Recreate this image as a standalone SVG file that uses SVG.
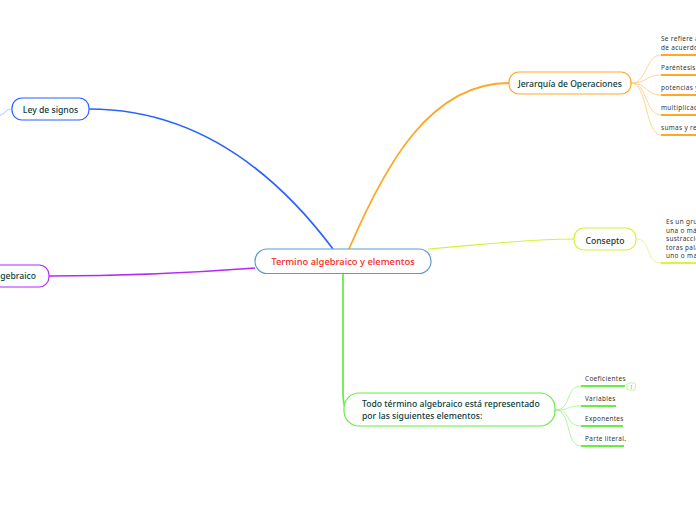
<svg xmlns="http://www.w3.org/2000/svg" width="696" height="520" viewBox="0 0 696 520">
<style>
text{font-family:"Noto Sans","DejaVu Sans",sans-serif}
.n{fill:#fff;stroke-width:1.2}
.t{font-size:8.6px;font-weight:500;fill:#0b3d3a}
.l{font-size:6.4px;fill:#333;letter-spacing:.35px}
.c{fill:none}
.u{fill:none;stroke-width:2}
</style>
<g id="connectors">
<path class="c" stroke="#2962ff" stroke-width="1.6" d="M89 109C190 109 270 165 333 249"/>
<path class="c" stroke="#ffa726" stroke-width="1.8" d="M349 249C385 165 430 83 509 83"/>
<path class="c" stroke="#d4f23c" stroke-width="1.2" d="M428 249C480 245 525 239 574 239"/>
<path class="c" stroke="#b429f9" stroke-width="1.4" d="M49 276C120 276 190 273 255 268"/>
<path class="c" stroke="#66ee44" stroke-width="1.8" d="M343 273V392Q343 410 349 410"/>
<path class="c" stroke="#9db8ff" stroke-width=".8" d="M12 109C6 109 4 115 0 115"/>
<g fill="none" stroke="#ffd08a" stroke-width=".9">
<path d="M631 83C648 83 645 55 661 55"/><path d="M631 83C648 83 645 75 661 75"/><path d="M631 83C648 83 645 95 661 95"/><path d="M631 83C648 83 645 115 661 115"/><path d="M631 83C648 83 645 135 661 135"/>
</g>
<path class="c" stroke="#e4f77a" stroke-width=".9" d="M636 239C652 239 645 263 661 263"/>
<g fill="none" stroke="#a6f58e" stroke-width=".9">
<path d="M555 410C572 410 565 386 581 386"/><path d="M555 410C572 410 565 406 581 406"/><path d="M555 410C572 410 565 426 581 426"/><path d="M555 410C572 410 565 446 581 446"/>
</g>
<g stroke="#ffa726" class="u"><path d="M661 55H696M661 75H696M661 95H696M661 115H696M661 135H696"/></g>
<path class="u" stroke="#d8f53c" d="M661 263H696"/>
<g stroke="#66ee44" class="u"><path d="M581 386H625M581 406H616M581 426H623M581 446H624"/></g>
</g>
<g id="central"><rect class="n" x="255" y="249" width="176" height="24.500" rx="12" stroke="#5b9bd5"/><text x="343" y="265" text-anchor="middle" font-weight="500" fill="#f5281e" style="font-size:9.400px">Termino algebraico y elementos</text></g>
<g id="ley"><rect class="n" x="12" y="98" width="77" height="22" rx="10" stroke="#2962ff"/><text class="t" x="50.500" y="112.500" text-anchor="middle">Ley de signos</text></g>
<g id="algebraico"><rect class="n" x="-22" y="265" width="71" height="22" rx="10" stroke="#b429f9"/><text class="t" x="36" y="279" text-anchor="end">lgebraico</text></g>
<g id="jerarquia"><rect class="n" x="509" y="72" width="122" height="22" rx="10" stroke="#ffa726"/><text class="t" x="570" y="86.500" text-anchor="middle">Jerarquía de Operaciones</text></g>
<g id="consepto"><rect class="n" x="574" y="228" width="62" height="22" rx="10" stroke="#d4f23c"/><text class="t" x="605" y="243.500" text-anchor="middle">Consepto</text></g>
<g id="todo"><rect class="n" x="344" y="393" width="211" height="33" rx="15" stroke="#66ee44"/><text class="t" x="362" y="407">Todo término algebraico está representado</text><text class="t" x="362" y="418.500">por las siguientes elementos:</text></g>
<g id="jerarquia-leaves">
<text class="l" x="661" y="41">Se refiere al</text><text class="l" x="661" y="50">de acuerdo</text>
<text class="l" x="661" y="70">Paréntesis, c</text>
<text class="l" x="661" y="90">potencias y r</text>
<text class="l" x="661" y="110">multiplicació</text>
<text class="l" x="661" y="130">sumas y rest</text>
</g>
<g id="consepto-leaf">
<text class="l" x="666" y="224">Es un grup</text><text class="l" x="666" y="232.500">una o más</text><text class="l" x="666" y="241">sustracción</text><text class="l" x="666" y="249.500">toras palab</text><text class="l" x="666" y="258">uno o mas</text>
</g>
<g id="todo-leaves">
<text class="l" x="585" y="381">Coeficientes</text>
<text class="l" x="585" y="401">Variables</text>
<text class="l" x="585" y="421">Exponentes</text>
<text class="l" x="585" y="441">Parte literal.</text>
<rect x="627" y="383" width="8.500" height="7" rx="1.500" fill="#fff" stroke="#a6f58e" stroke-width=".8"/>
<text x="631.200" y="389" text-anchor="middle" fill="#666" style="font-size:5.500px">!</text>
</g>
</svg>
